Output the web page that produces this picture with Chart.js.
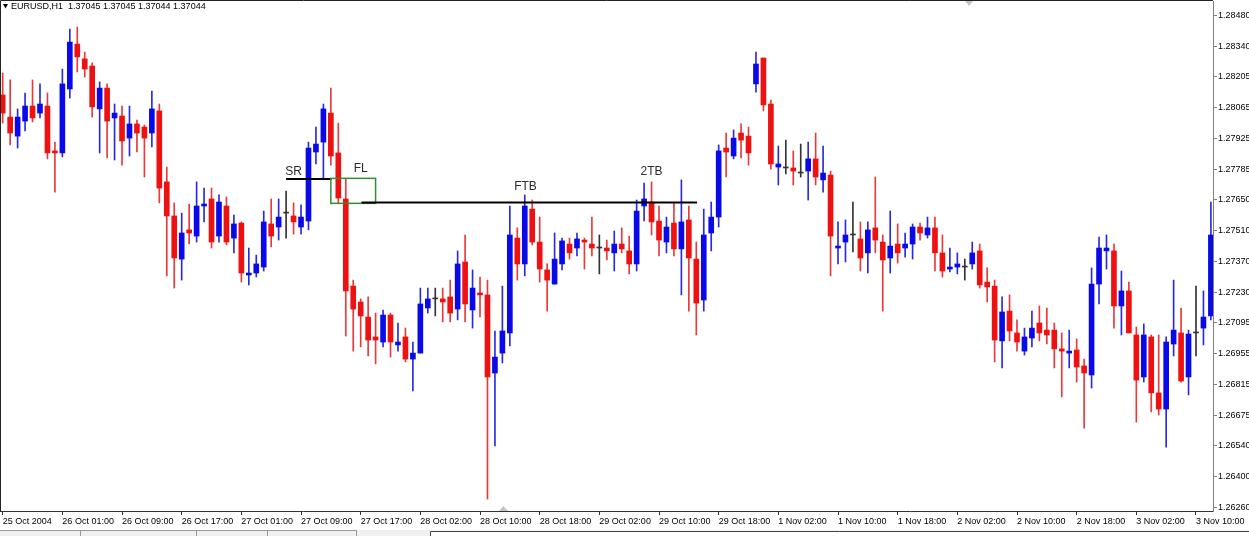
<!DOCTYPE html>
<html>
<head>
<meta charset="utf-8">
<script src="https://cdn.jsdelivr.net/npm/chart.js@4.4.1/dist/chart.umd.min.js"></script>
<style>
  html, body { margin: 0; padding: 0; background: #fff; }
  canvas { display: block; }
</style>
</head>
<body>
<canvas id="eurusdChart" width="1249" height="536"></canvas>
<script>
// EURUSD H1, 25 Oct - 3 Nov 2004 (one entry per hourly bar)
const openP = [
  1.28123, 1.28023, 1.27937, 1.28005, 1.28073, 1.28041, 1.28073, 1.27870, 1.27861, 1.28150,
  1.28353, 1.28286, 1.28254, 1.28060, 1.28154, 1.28019, 1.28028, 1.27928, 1.27992, 1.27978,
  1.27951, 1.28051, 1.27730, 1.27576, 1.27381, 1.27513, 1.27485, 1.27621, 1.27653, 1.27485,
  1.27621, 1.27476, 1.27544, 1.27309, 1.27318, 1.27345, 1.27540, 1.27526, 1.27589, 1.27576,
  1.27526, 1.27553, 1.27865, 1.27910, 1.28041, 1.27861, 1.27653, 1.27259, 1.27187, 1.27119,
  1.27029, 1.27006, 1.27128, 1.26993, 1.27029, 1.26929, 1.26956, 1.27160, 1.27201, 1.27201,
  1.27210, 1.27155, 1.27368, 1.27151, 1.27228, 1.27219, 1.26866, 1.26956, 1.27047, 1.27476,
  1.27359, 1.27607, 1.27458, 1.27332, 1.27268, 1.27359, 1.27449, 1.27431, 1.27467, 1.27449,
  1.27431, 1.27431, 1.27409, 1.27449, 1.27418, 1.27359, 1.27621, 1.27639, 1.27553, 1.27458,
  1.27544, 1.27427, 1.27558, 1.27381, 1.27196, 1.27499, 1.27571, 1.27883, 1.27847, 1.27951,
  1.27937, 1.28173, 1.28290, 1.28082, 1.27797, 1.27793, 1.27793, 1.27770, 1.27779, 1.27834,
  1.27739, 1.27761, 1.27431, 1.27458, 1.27490, 1.27472, 1.27409, 1.27522, 1.27458, 1.27386,
  1.27449, 1.27431, 1.27449, 1.27526, 1.27490, 1.27522, 1.27409, 1.27336, 1.27345, 1.27345,
  1.27359, 1.27418, 1.27277, 1.27259, 1.27011, 1.27146, 1.27047, 1.26965, 1.27024, 1.27092,
  1.27060, 1.27060, 1.26975, 1.26956, 1.26970, 1.26898, 1.26857, 1.27268, 1.27418, 1.27418,
  1.27169, 1.27237, 1.27038, 1.26848, 1.27029, 1.26776, 1.26703, 1.26997, 1.27047, 1.26848,
  1.27047, 1.27069, 1.27124
];
const highP = [
  1.28222, 1.28191, 1.28060, 1.28132, 1.28191, 1.28173, 1.28132, 1.27910, 1.28240, 1.28421,
  1.28430, 1.28317, 1.28268, 1.28182, 1.28173, 1.28082, 1.28073, 1.28073, 1.28010, 1.27987,
  1.28141, 1.28082, 1.27797, 1.27635, 1.27589, 1.27630, 1.27730, 1.27702, 1.27702, 1.27671,
  1.27662, 1.27580, 1.27549, 1.27431, 1.27399, 1.27598, 1.27653, 1.27653, 1.27689, 1.27635,
  1.27626, 1.27910, 1.27978, 1.28082, 1.28154, 1.27996, 1.27743, 1.27286, 1.27201, 1.27210,
  1.27137, 1.27151, 1.27137, 1.27092, 1.27069, 1.27006, 1.27250, 1.27250, 1.27250, 1.27250,
  1.27286, 1.27418, 1.27490, 1.27332, 1.27300, 1.27286, 1.27056, 1.27259, 1.27621, 1.27522,
  1.27671, 1.27648, 1.27571, 1.27359, 1.27499, 1.27476, 1.27476, 1.27499, 1.27476, 1.27571,
  1.27490, 1.27467, 1.27508, 1.27522, 1.27485, 1.27648, 1.27725, 1.27730, 1.27621, 1.27571,
  1.27639, 1.27739, 1.27621, 1.27458, 1.27607, 1.27639, 1.27897, 1.27951, 1.27965, 1.27992,
  1.27978, 1.28317, 1.28290, 1.28100, 1.27892, 1.27919, 1.27870, 1.27901, 1.27910, 1.27951,
  1.27892, 1.27779, 1.27549, 1.27558, 1.27639, 1.27549, 1.27549, 1.27752, 1.27490, 1.27598,
  1.27540, 1.27499, 1.27540, 1.27544, 1.27571, 1.27571, 1.27490, 1.27431, 1.27409, 1.27381,
  1.27458, 1.27449, 1.27341, 1.27286, 1.27210, 1.27219, 1.27106, 1.27069, 1.27146, 1.27169,
  1.27160, 1.27092, 1.27047, 1.27060, 1.27020, 1.26929, 1.27341, 1.27481, 1.27490, 1.27449,
  1.27327, 1.27277, 1.27074, 1.27088, 1.27038, 1.27038, 1.27029, 1.27286, 1.27160, 1.27060,
  1.27259, 1.27237, 1.27639
];
const lowP = [
  1.27996, 1.27897, 1.27883, 1.27960, 1.28001, 1.28019, 1.27834, 1.27684, 1.27843, 1.28109,
  1.28227, 1.28204, 1.28023, 1.27861, 1.27838, 1.27829, 1.27806, 1.27847, 1.27865, 1.27752,
  1.27888, 1.27635, 1.27305, 1.27250, 1.27286, 1.27449, 1.27458, 1.27549, 1.27431, 1.27458,
  1.27445, 1.27409, 1.27277, 1.27264, 1.27300, 1.27327, 1.27436, 1.27467, 1.27476, 1.27494,
  1.27494, 1.27513, 1.27811, 1.27743, 1.27806, 1.27635, 1.27033, 1.26965, 1.26984, 1.26943,
  1.26907, 1.26984, 1.26938, 1.26965, 1.26916, 1.26785, 1.26956, 1.27137, 1.27124, 1.27097,
  1.27097, 1.27106, 1.27097, 1.27069, 1.27119, 1.26296, 1.26536, 1.26911, 1.26988, 1.27286,
  1.27305, 1.27445, 1.27277, 1.27146, 1.27268, 1.27332, 1.27381, 1.27395, 1.27336, 1.27395,
  1.27314, 1.27377, 1.27327, 1.27409, 1.27314, 1.27327, 1.27553, 1.27490, 1.27395, 1.27409,
  1.27395, 1.27219, 1.27146, 1.27038, 1.27146, 1.27418, 1.27526, 1.27752, 1.27834, 1.27838,
  1.27806, 1.28136, 1.28051, 1.27788, 1.27716, 1.27766, 1.27716, 1.27752, 1.27648, 1.27716,
  1.27684, 1.27305, 1.27359, 1.27368, 1.27413, 1.27327, 1.27318, 1.27409, 1.27146, 1.27318,
  1.27363, 1.27390, 1.27381, 1.27467, 1.27476, 1.27327, 1.27300, 1.27323, 1.27314, 1.27286,
  1.27336, 1.27250, 1.27187, 1.26916, 1.26889, 1.27011, 1.26965, 1.26947, 1.26984, 1.27011,
  1.26997, 1.26889, 1.26758, 1.26889, 1.26825, 1.26617, 1.26798, 1.27178, 1.27336, 1.27069,
  1.27038, 1.27047, 1.26644, 1.26825, 1.26690, 1.26676, 1.26531, 1.26943, 1.26825, 1.26767,
  1.26943, 1.26993, 1.27106
];
const closeP = [
  1.28041, 1.27951, 1.28023, 1.28073, 1.28019, 1.28082, 1.27861, 1.27861, 1.28173, 1.28362,
  1.28295, 1.28240, 1.28069, 1.28154, 1.28005, 1.28041, 1.27915, 1.27992, 1.27951, 1.27928,
  1.28060, 1.27702, 1.27576, 1.27386, 1.27499, 1.27499, 1.27621, 1.27630, 1.27458, 1.27639,
  1.27458, 1.27540, 1.27318, 1.27318, 1.27359, 1.27549, 1.27485, 1.27571, 1.27589, 1.27549,
  1.27571, 1.27883, 1.27901, 1.28060, 1.27847, 1.27657, 1.27237, 1.27155, 1.27124, 1.27015,
  1.27015, 1.27128, 1.27006, 1.27006, 1.26929, 1.26956, 1.27178, 1.27201, 1.27201, 1.27187,
  1.27137, 1.27359, 1.27178, 1.27250, 1.27219, 1.26848, 1.26938, 1.27056, 1.27490, 1.27359,
  1.27621, 1.27458, 1.27336, 1.27286, 1.27381, 1.27463, 1.27409, 1.27472, 1.27458, 1.27431,
  1.27431, 1.27418, 1.27449, 1.27427, 1.27359, 1.27598, 1.27653, 1.27549, 1.27467, 1.27526,
  1.27427, 1.27549, 1.27386, 1.27182, 1.27490, 1.27571, 1.27870, 1.27865, 1.27928, 1.27919,
  1.27861, 1.28263, 1.28078, 1.27811, 1.27811, 1.27793, 1.27779, 1.27770, 1.27834, 1.27752,
  1.27770, 1.27485, 1.27440, 1.27490, 1.27490, 1.27386, 1.27513, 1.27467, 1.27377, 1.27440,
  1.27409, 1.27449, 1.27526, 1.27499, 1.27522, 1.27409, 1.27327, 1.27345, 1.27359, 1.27345,
  1.27409, 1.27264, 1.27255, 1.27015, 1.27142, 1.27056, 1.27006, 1.27029, 1.27069, 1.27047,
  1.27038, 1.26975, 1.26965, 1.26965, 1.26893, 1.26866, 1.27268, 1.27431, 1.27431, 1.27169,
  1.27237, 1.27047, 1.26834, 1.27038, 1.26776, 1.26703, 1.27006, 1.27060, 1.26830, 1.27042,
  1.27047, 1.27119, 1.27490
];

// time axis: a label every 8 bars
const tickIdx = [0, 8, 16, 24, 32, 40, 48, 56, 64, 72, 80, 88, 96, 104, 112, 120, 128, 136, 144, 152, 160];
const tickLabels = [
  "25 Oct 2004", "26 Oct 01:00", "26 Oct 09:00", "26 Oct 17:00", "27 Oct 01:00", "27 Oct 09:00",
  "27 Oct 17:00", "28 Oct 02:00", "28 Oct 10:00", "28 Oct 18:00", "29 Oct 02:00", "29 Oct 10:00",
  "29 Oct 18:00", "1 Nov 02:00", "1 Nov 10:00", "1 Nov 18:00", "2 Nov 02:00", "2 Nov 10:00",
  "2 Nov 18:00", "3 Nov 02:00", "3 Nov 10:00"
];
const priceTicks = [
  1.28480, 1.28340, 1.28205, 1.28065, 1.27925, 1.27785, 1.27650, 1.27510, 1.27370,
  1.27230, 1.27095, 1.26955, 1.26815, 1.26675, 1.26540, 1.26400, 1.26260
];

// drawn marks: SR line, FL box, FTB level, text tags
const srSpan = [38.0, 44.1];
const srLevel = 1.27743;
const flBox = [44.0, 50.0, 1.27746, 1.27633];
const ftbSpan = [48.1, 93.1];
const ftbLevel = 1.27637;
const tagText = ["SR", "FL", "FTB", "2TB"];
const tagIdx = [39.0, 48.0, 70.1, 87.0];
const tagPrice = [1.27778, 1.27791, 1.27708, 1.27775];

const BULL = "#0a0ae8";
const BEAR = "#ee1111";
const DOJI = "#333333";
const bodyColors = openP.map((o, i) => closeP[i] > o ? BULL : closeP[i] < o ? BEAR : DOJI);
const wickColors = openP.map((o, i) => closeP[i] > o ? "#2a2ae0" : closeP[i] < o ? "#e83a3a" : DOJI);

Chart.defaults.font.family = "'Liberation Sans', Arial, sans-serif";
Chart.defaults.font.size = 9;
Chart.defaults.color = "#000";

const marksPlugin = {
  id: "marks",
  afterDatasetsDraw(chart) {
    const { ctx, scales: { x, y } } = chart;
    ctx.save();
    // SR
    ctx.strokeStyle = "#000";
    ctx.lineWidth = 2;
    ctx.beginPath();
    ctx.moveTo(x.getPixelForValue(srSpan[0]), y.getPixelForValue(srLevel));
    ctx.lineTo(x.getPixelForValue(srSpan[1]), y.getPixelForValue(srLevel));
    ctx.stroke();
    // FL box
    ctx.strokeStyle = "#2f8f2f";
    ctx.lineWidth = 1.5;
    const bx = x.getPixelForValue(flBox[0]);
    const by = y.getPixelForValue(flBox[2]);
    ctx.strokeRect(bx, by, x.getPixelForValue(flBox[1]) - bx, y.getPixelForValue(flBox[3]) - by);
    // FTB level
    ctx.strokeStyle = "#000";
    ctx.lineWidth = 2;
    ctx.beginPath();
    ctx.moveTo(x.getPixelForValue(ftbSpan[0]), y.getPixelForValue(ftbLevel));
    ctx.lineTo(x.getPixelForValue(ftbSpan[1]), y.getPixelForValue(ftbLevel));
    ctx.stroke();
    // tags
    ctx.fillStyle = "#2b2b2b";
    ctx.font = "12px 'Liberation Sans', Arial, sans-serif";
    ctx.textAlign = "center";
    ctx.textBaseline = "middle";
    tagText.forEach((t, i) => {
      ctx.fillText(t, x.getPixelForValue(tagIdx[i]), y.getPixelForValue(tagPrice[i]));
    });
    ctx.restore();
  },
  afterDraw(chart) {
    const { ctx, chartArea } = chart;
    ctx.save();
    // window frame
    ctx.strokeStyle = "#222";
    ctx.lineWidth = 1;
    ctx.beginPath();
    ctx.moveTo(0.5, chartArea.bottom);
    ctx.lineTo(0.5, 0.5);
    ctx.lineTo(chartArea.right, 0.5);
    ctx.stroke();
    // title
    ctx.fillStyle = "#000";
    ctx.beginPath();
    ctx.moveTo(3, 4);
    ctx.lineTo(8, 4);
    ctx.lineTo(5.5, 8.5);
    ctx.closePath();
    ctx.fill();
    ctx.font = "9px 'Liberation Sans', Arial, sans-serif";
    ctx.textAlign = "left";
    ctx.textBaseline = "middle";
    ctx.fillText("EURUSD,H1  1.37045 1.37045 1.37044 1.37044", 11, 6.5);
    // chart shift markers
    ctx.fillStyle = "#c4c4c4";
    ctx.beginPath();
    ctx.moveTo(965, 1); ctx.lineTo(973, 1); ctx.lineTo(969, 6); ctx.closePath();
    ctx.fill();
    ctx.beginPath();
    ctx.moveTo(499, 511); ctx.lineTo(508, 511); ctx.lineTo(503.5, 506); ctx.closePath();
    ctx.fill();
    // tab strip
    ctx.fillStyle = "#f0f0f0";
    ctx.fillRect(0, 530, 1249, 6);
    ctx.strokeStyle = "#9a9a9a";
    ctx.beginPath();
    ctx.moveTo(0, 530.5); ctx.lineTo(357, 530.5);
    [80.5, 196.5, 267.5, 356.5].forEach(px => { ctx.moveTo(px, 531); ctx.lineTo(px, 536); });
    ctx.stroke();
    ctx.fillStyle = "#fff";
    ctx.fillRect(430, 531, 819, 5);
    ctx.strokeStyle = "#444";
    ctx.beginPath();
    ctx.moveTo(430.5, 536); ctx.lineTo(430.5, 531.5); ctx.lineTo(1249, 531.5);
    ctx.stroke();
    ctx.restore();
  }
};

const chartEl = document.getElementById("eurusdChart");
new Chart(chartEl.getContext("2d"), {
  type: "bar",
  data: {
    datasets: [
      {
        label: "body",
        data: openP.map((o, i) => ({ x: i, y: [o, closeP[i]] })),
        backgroundColor: bodyColors,
        barThickness: 5,
        minBarLength: 1,
        grouped: false,
        borderWidth: 0,
      },
      {
        label: "wick",
        data: lowP.map((l, i) => ({ x: i, y: [l, highP[i]] })),
        backgroundColor: wickColors,
        barThickness: 1,
        grouped: false,
        borderWidth: 0,
      },
    ],
  },
  options: {
    responsive: false,
    animation: false,
    events: [],
    layout: { padding: { top: 1, left: 0, right: 0, bottom: 0 } },
    plugins: {
      legend: { display: false },
      tooltip: { enabled: false },
    },
    scales: {
      x: {
        type: "linear",
        min: -0.362,
        max: 162.28,
        offset: false,
        grid: { drawOnChartArea: false, offset: false, tickLength: 4, color: "#333" },
        border: { color: "#333" },
        ticks: {
          autoSkip: false,
          maxRotation: 0,
          align: "start",
          padding: 1,
          callback: (v, i) => tickLabels[i],
        },
        afterBuildTicks: (s) => { s.ticks = tickIdx.map(v => ({ value: v })); },
        afterFit: (s) => { s.height = 25; s.paddingLeft = 0; s.paddingRight = 0; },
      },
      y: {
        position: "right",
        min: 1.262421,
        max: 1.285478,
        grid: { drawOnChartArea: false, tickLength: 4, color: "#808080" },
        border: { color: "#808080" },
        ticks: {
          padding: 1,
          callback: (v) => v.toFixed(5),
        },
        afterBuildTicks: (s) => { s.ticks = priceTicks.map(v => ({ value: v })); },
        afterFit: (s) => { s.width = 36; s.paddingTop = 0; s.paddingBottom = 0; },
      },
    },
  },
  plugins: [marksPlugin],
});
</script>
</body>
</html>
